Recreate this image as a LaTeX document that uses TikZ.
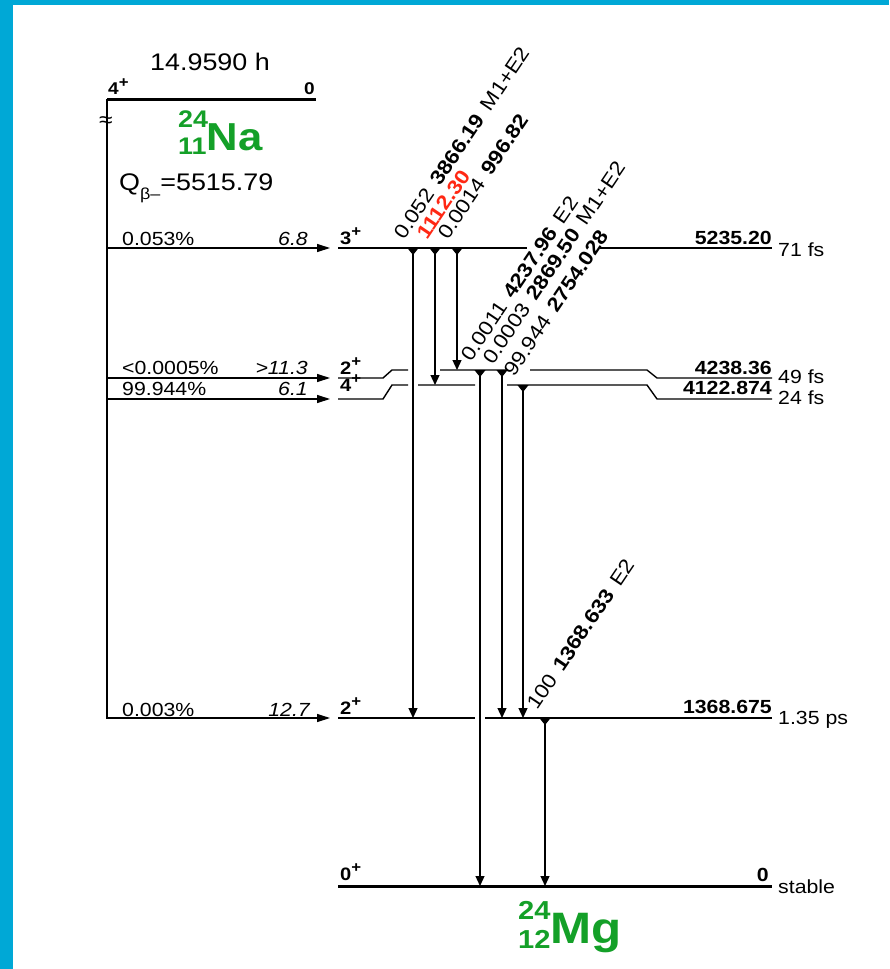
\documentclass[tikz,border=0pt]{standalone}
\usepackage{fontspec}
\setmainfont[FakeStretch=1.12]{Liberation Sans}
\usepackage{xcolor}
\usetikzlibrary{arrows.meta}
\definecolor{frameblue}{RGB}{0,168,214}
\definecolor{nucgreen}{RGB}{20,160,40}
\definecolor{newred}{RGB}{255,40,20}
\newcommand{\sz}[1]{\fontsize{#1}{#1}\selectfont}
\newcommand{\nucl}[5]{{\bfseries
  \rlap{\raisebox{\dimexpr #4pt*92/100\relax}{\sz{#4}#1}}%
  \raisebox{-\dimexpr #4pt*20/100\relax}{\sz{#4}#2}%
  {\sz{#5}#3}}}
\newcommand{\jpi}[1]{#1\raisebox{0.4em}{\sz{15}+}}
\newcommand{\gsep}{\hspace{0.45em}}

\begin{document}
\begin{tikzpicture}[x=1pt, y=-1pt,
  every node/.style={font=\sz{19}, inner sep=0pt},
  lvl/.style={line width=1.4pt},
  gs/.style={line width=3pt},
  feed/.style={line width=1.2pt, -{Triangle[width=8pt,length=13pt]}},
  gam/.style={line width=1.2pt, {Triangle[reversed,width=11pt,length=7pt]}-{Triangle[width=9pt,length=10pt]}},
  glab/.style={rotate=56, anchor=base west, font=\sz{20}},
  spin/.style={anchor=base west, font=\sz{18}\bfseries},
  en/.style={anchor=base east, font=\sz{19}\bfseries},
  thalf/.style={anchor=west},
  pct/.style={anchor=base west},
  ft/.style={anchor=base east, font=\sz{19}\itshape}
]
\useasboundingbox (0,0) rectangle (889,969);
\fill[white] (0,0) rectangle (889,969);
\fill[frameblue] (0,0) rectangle (13,969);
\fill[frameblue] (0,0) rectangle (889,5);

\coordinate (ax) at (107,99);
\coordinate (pr) at (316,99);
\coordinate (fd) at (330,0);
\coordinate (l5235) at (338,248);
\coordinate (r5235) at (772,248);
\coordinate (l4238) at (338,378);
\coordinate (r4238) at (772,378);
\coordinate (m4238) at (440,370);
\coordinate (l4122) at (338,399);
\coordinate (r4122) at (772,399);
\coordinate (m4122) at (418,385);
\coordinate (l1368) at (338,718);
\coordinate (r1368) at (772,718);
\coordinate (l0) at (338,886);
\coordinate (r0) at (772,886);
\coordinate (c3866) at (413,0);
\coordinate (c1112) at (435,0);
\coordinate (c997) at (457,0);
\coordinate (c4238) at (480,0);
\coordinate (c2870) at (502,0);
\coordinate (c2754) at (523,0);
\coordinate (c1369) at (545,0);

% parent
\draw[gs] (ax) -- (pr);
\node[anchor=base west, font=\sz{24}] (hl) at (150,70) {14.9590 h};
\node[spin, font=\sz{17}\bfseries] (jp) at (108,94) {\jpi{4}};
\node[en, font=\sz{17}\bfseries] (ep) at (315,94) {0};
\node[anchor=base west, text=nucgreen] (na) at (178,150) {\nucl{24}{11}{Na}{24}{39}};
\node[anchor=base west, font=\sz{24}] (qb) at (119,190) {Q\raisebox{-9pt}{\sz{16}β–}=5515.79};
\node[font=\sz{22}] (brk) at (106,122) {≈};

% levels
\draw[lvl] (l5235) -- (527,248) (600,248) -- (r5235);
\draw[lvl] (l4238) -- (383,378) -- (392,370) -- (408,370) (m4238) -- (507,370)
  (530,370) -- (647,370) -- (657,378) -- (r4238);
\draw[lvl] (l4122) -- (383,399) -- (392,385) -- (408,385) (m4122) -- (475,385)
  (507,385) -- (647,385) -- (657,399) -- (r4122);
\draw[lvl] (l1368) -- (475,718) (485,718) -- (r1368);
\draw[gs] (l0) -- (r0);

\node[spin] (j5235) at (340,244) {\jpi{3}};
\node[spin] (j4238) at (340,374) {\jpi{2}};
\node[spin] (j4122) at (340,391) {\jpi{4}};
\node[spin] (j1368) at (340,714) {\jpi{2}};
\node[spin] (j0) at (340,880) {\jpi{0}};
\node[en] (e5235) at (772,244) {5235.20};
\node[en] (e4238) at (772,374) {4238.36};
\node[en] (e4122) at (772,394) {4122.874};
\node[en] (e1368) at (772,713) {1368.675};
\node[en] (e0) at (769,881) {0};
\node[thalf] (h5235) at (778,250) {71 fs};
\node[thalf] (h4238) at (778,377) {49 fs};
\node[thalf] (h4122) at (778,398) {24 fs};
\node[thalf] (h1368) at (778,720) {1.35 ps};
\node[thalf] (h0) at (778,887) {stable};
\node[anchor=base west, text=nucgreen] (mg) at (518,943) {\nucl{24}{12}{Mg}{26}{44}};

% beta feeding
\draw[feed] (ax) -- (ax |- l1368) -- (fd |- l1368);
\draw[feed] (ax |- l5235) -- (fd |- l5235);
\draw[feed] (ax |- l4238) -- (fd |- l4238);
\draw[feed] (ax |- l4122) -- (fd |- l4122);
\node[pct] (p5235) at (122,245) {0.053\%};
\node[ft] (f5235) at (308,245) {6.8};
\node[pct] (p4238) at (122,374) {<0.0005\%};
\node[ft] (f4238) at (308,374) {>11.3};
\node[pct] (p4122) at (122,395) {99.944\%};
\node[ft] (f4122) at (308,395) {6.1};
\node[pct] (p1368) at (122,716) {0.003\%};
\node[ft] (f1368) at (310,716) {12.7};

% gamma rays
\draw[gam] (c3866 |- l5235) -- (c3866 |- l1368);
\draw[gam] (c1112 |- l5235) -- (c1112 |- m4122);
\draw[gam] (c997 |- l5235) -- (c997 |- m4238);
\draw[gam] (c4238 |- m4238) -- (c4238 |- l0);
\draw[gam] (c2870 |- m4238) -- (c2870 |- l1368);
\draw[gam] (c2754 |- m4122) -- (c2754 |- l1368);
\draw[gam] (c1369 |- l1368) -- (c1369 |- l0);

\node[glab] (t3866) at (404,241) {0.052\gsep\textbf{3866.19}\gsep M1+E2};
\node[glab, text=newred] (t1112) at (427,241) {\textbf{1112.30}};
\node[glab] (t997) at (448,241) {0.0014\gsep\textbf{996.82}};
\node[glab] (t4238) at (471,363) {0.0011\gsep\textbf{4237.96}\gsep E2};
\node[glab] (t2870) at (493,366) {0.0003\gsep\textbf{2869.50}\gsep M1+E2};
\node[glab] (t2754) at (514,378) {99.944\gsep\textbf{2754.028}};
\node[glab] (t1369) at (537,711) {100\gsep\textbf{1368.633}\gsep E2};
\end{tikzpicture}
\end{document}
